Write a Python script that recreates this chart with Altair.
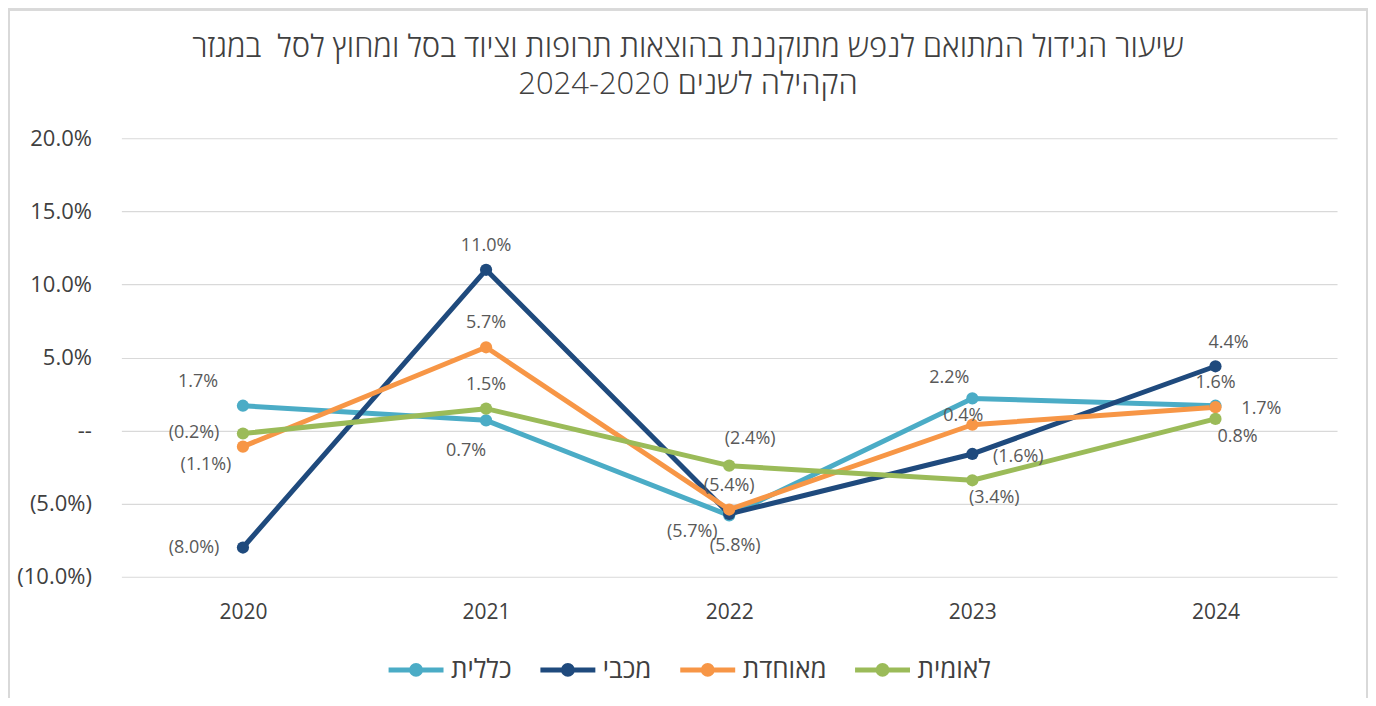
import altair as alt
import pandas as pd

# ---- data ----
years = ["2020", "2021", "2022", "2023", "2024"]
series_names = ["כללית", "מכבי", "מאוחדת", "לאומית"]
clalit = [1.7, 0.7, -5.8, 2.2, 1.7]
maccabi = [-8.0, 11.0, -5.7, -1.6, 4.4]
meuhedet = [-1.1, 5.7, -5.4, 0.4, 1.6]
leumit = [-0.2, 1.5, -2.4, -3.4, 0.8]
# label placement keywords per point
clalit_pos = ["aboveleft", "belowleft2", "belowright2", "aboveleft2", "right"]
maccabi_pos = ["left", "above", "belowleft", "right", "aboveright2"]
meuhedet_pos = ["belowleft", "above", "above", "near", "above"]
leumit_pos = ["left", "above", "aboveright", "belowright", "belowright"]
y_ticks = [-10, -5, 0, 5, 10, 15, 20]
title_lines = [
    "שיעור הגידול המתואם לנפש מתוקננת בהוצאות תרופות וציוד בסל ומחוץ לסל\u00a0 במגזר",
    "2024-2020 הקהילה לשנים",
]
colors = ["#4BACC6", "#1F4A7D", "#F79646", "#9BBB59"]

rows = []
for name, vals, pos in zip(series_names, [clalit, maccabi, meuhedet, leumit],
                           [clalit_pos, maccabi_pos, meuhedet_pos, leumit_pos]):
    for yr, v, p in zip(years, vals, pos):
        rows.append({"year": yr, "series": name, "value": v, "pos": p})
df = pd.DataFrame(rows)

FONT = "Open Sans"
TXT = "#595959"

offsets = {
    "above": (0, -24),
    "left": (-49, 0),
    "right": (46, 3),
    "aboveleft": (-45, -24),
    "aboveleft2": (-23, -20),
    "belowleft": (-37, 18),
    "belowleft2": (-20, 31),
    "belowright2": (6, 31),
    "aboveright": (21, -27),
    "aboveright2": (13, -23),
    "belowright": (22, 18),
    "near": (-9, -9),
}

legend_path = ("M-1,0L1,0M0.16,0A0.16,0.16,0,1,1,-0.16,0"
               "A0.16,0.16,0,1,1,0.16,0Z")

x_enc = alt.X("year:N", sort=years,
              scale=alt.Scale(type="point", padding=0.5),
              axis=alt.Axis(title=None, labelAngle=0, domain=False, ticks=False,
                            labelPadding=25, labelFontSize=21, labelColor="#404040",
                            labelFont=FONT, grid=False))
y_enc = alt.Y("value:Q",
              scale=alt.Scale(domain=[-10, 20], nice=False, zero=False),
              axis=alt.Axis(title=None, values=y_ticks, domain=False, ticks=False,
                            labelPadding=30, labelFontSize=22, labelColor="#404040",
                            labelFont=FONT, gridColor="#D9D9D9", gridWidth=1.2,
                            labelExpr="datum.value == 0 ? '--' : (datum.value < 0 ? '(' + format(-datum.value, '.1f') + '%)' : format(datum.value, '.1f') + '%')"))
color_enc = alt.Color("series:N",
                      scale=alt.Scale(domain=series_names, range=colors),
                      legend=alt.Legend(title=None, orient="none", direction="horizontal",
                                        legendX=265, legendY=502, padding=0,
                                        symbolType=legend_path, symbolSize=3025,
                                        symbolStrokeWidth=5, labelFontSize=26,
                                        labelFont=FONT, labelColor="#404040",
                                        columnPadding=18, labelOffset=5))

base = alt.Chart(df).encode(x=x_enc, y=y_enc, color=color_enc)
lines = base.mark_line(strokeWidth=5, strokeJoin="round", strokeCap="round")
points = base.mark_point(filled=True, size=150, opacity=1)

frame = alt.Chart(df).mark_rect(fill=None, stroke="#D9D9D9", strokeWidth=2).encode(
    x=alt.value(-112.5), x2=alt.value(1247), y=alt.value(-129), y2=alt.value(620))

layers = [frame, lines, points]
for key, (dx, dy) in offsets.items():
    layers.append(
        alt.Chart(df).transform_filter(alt.datum.pos == key)
        .transform_calculate(
            lab="datum.value < 0 ? '(' + format(-datum.value, '.1f') + '%)' : format(datum.value, '.1f') + '%'")
        .mark_text(dx=dx, dy=dy, fontSize=18, font=FONT, color=TXT, baseline="middle")
        .encode(x=alt.X("year:N", sort=years), y="value:Q", text="lab:N")
    )

chart = alt.layer(*layers).properties(
    width=1217, height=439,
    title=alt.TitleParams(text=title_lines, fontSize=31, font=FONT, fontWeight=300,
                          color="#404040", anchor="middle", offset=25, dy=118,
                          lineHeight=37, frame="bounds"),
    autosize=alt.AutoSizeParams(type="none"),
    padding={"left": 113.5, "top": 130, "right": 31, "bottom": 121},
).configure_view(stroke=None)

chart.save("out.html", embed_options={"renderer": "svg", "actions": False})
